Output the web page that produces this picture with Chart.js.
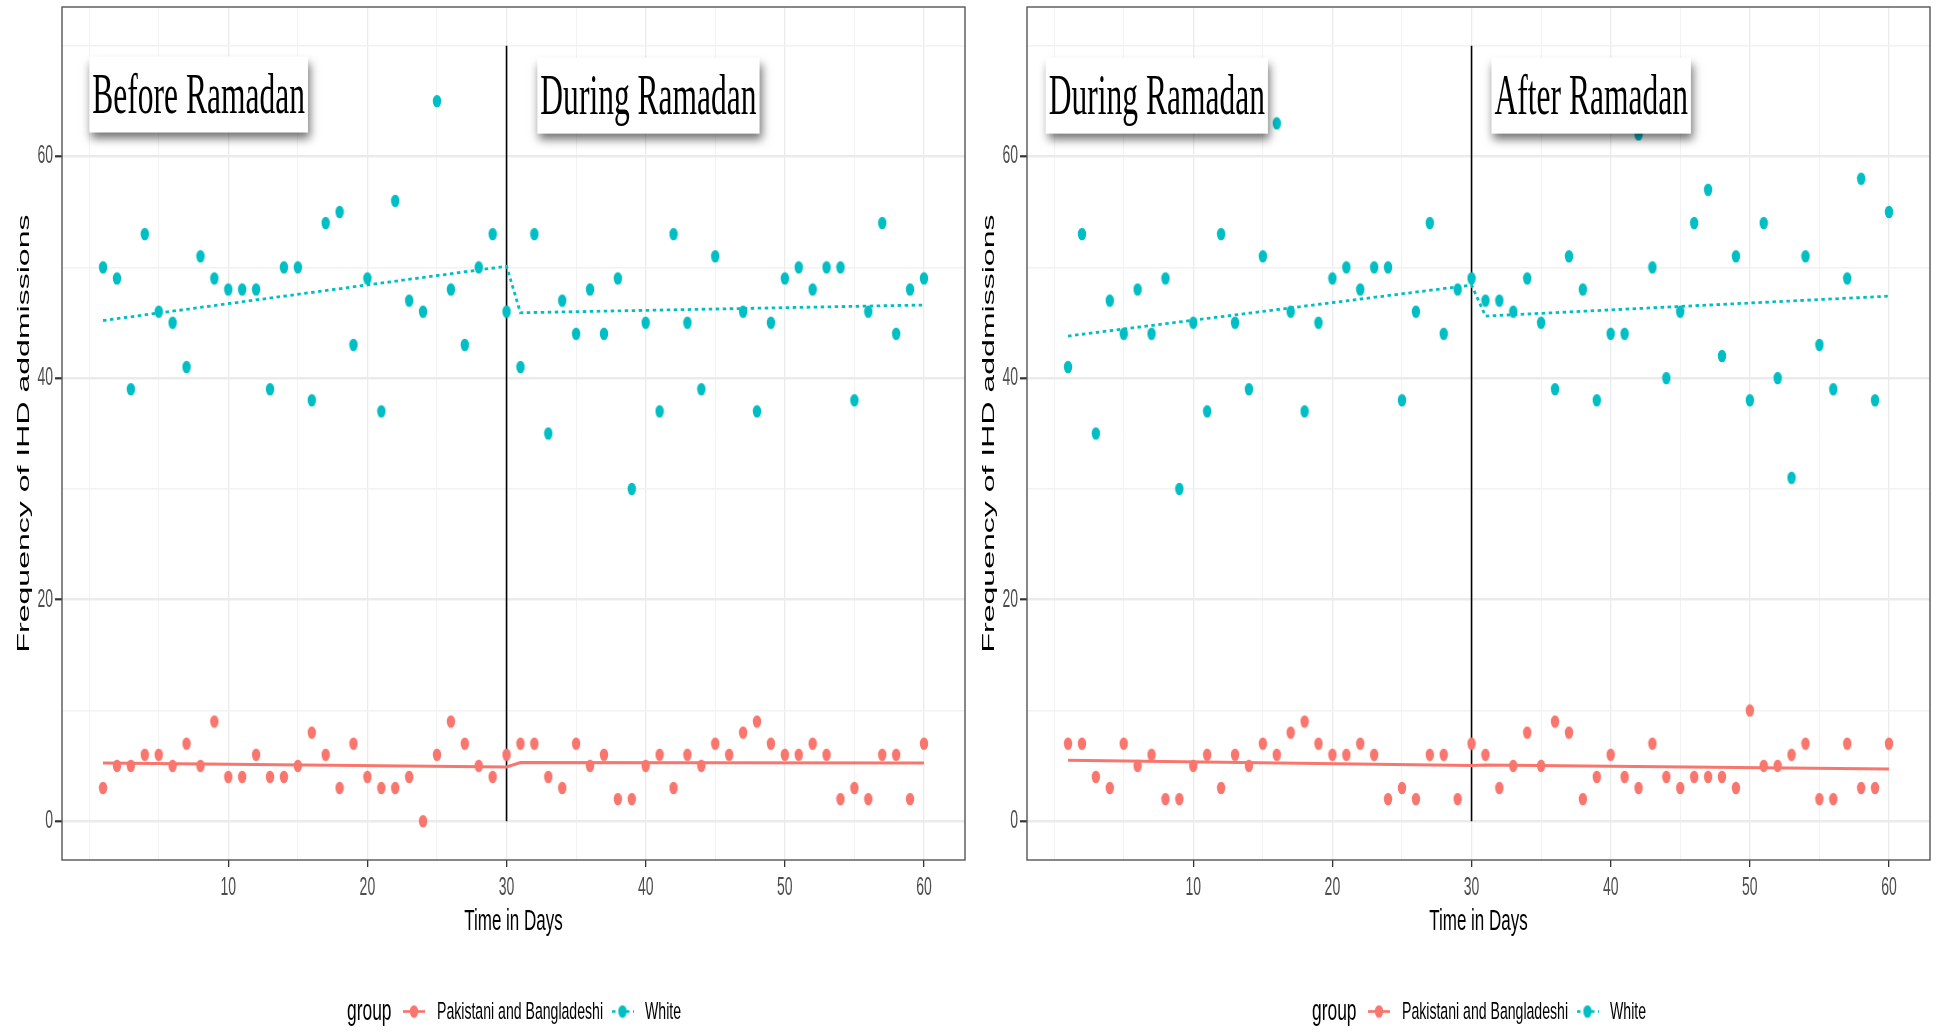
<!DOCTYPE html>
<html>
<head>
<meta charset="utf-8">
<script src="https://cdn.jsdelivr.net/npm/chart.js@4.4.1/dist/chart.umd.min.js"></script>
<style>
  body { margin: 0; background: #fff; width: 1939px; height: 1032px; overflow: hidden; position: relative; }
  .panel { position: absolute; top: 0; width: 970px; height: 1032px; }
</style>
</head>
<body>
<div class="panel" style="left:0"><canvas id="leftChart" width="970" height="1032"></canvas></div>
<div class="panel" style="left:965px"><canvas id="rightChart" width="970" height="1032"></canvas></div>
<script>
// Days of each 60-day window
const days = Array.from({ length: 60 }, (_, i) => i + 1);

// Daily IHD admissions, Pakistani and Bangladeshi
const beforePak = [3,5,5,6,6,5,7,5,9,4,4,6,4,4,5,8,6,3,7,4,3,3,4,0,6,9,7,5,4,6];
const duringPak = [7,7,4,3,7,5,6,2,2,5,6,3,6,5,7,6,8,9,7,6,6,7,6,2,3,2,6,6,2,7];
const afterPak  = [6,3,5,8,5,9,8,2,4,6,4,3,7,4,3,4,4,4,3,10,5,5,6,7,2,2,7,3,3,7];

// Daily IHD admissions, White
const beforeWhite = [50,49,39,53,46,45,41,51,49,48,48,48,39,50,50,38,54,55,43,49,37,56,47,46,65,48,43,50,53,46];
const duringWhite = [41,53,35,47,44,48,44,49,30,45,37,53,45,39,51,63,46,37,45,49,50,48,50,50,38,46,54,44,48,49];
const afterWhite  = [47,47,46,49,45,39,51,48,38,44,44,62,50,40,46,54,57,42,51,38,54,40,31,51,43,39,49,58,38,55];

// Segmented regression fits (ends of each segment)
const fitDays = [1, 30, 31, 60];
const leftPakFit = [5.26, 4.9, 5.3, 5.25];
const leftWhiteFit = [45.2, 50.1, 45.9, 46.6];
const rightPakFit = [5.5, 5.02, 5.08, 4.72];
const rightWhiteFit = [43.8, 48.4, 45.6, 47.4];

// Axis ticks
const xTickLabels = [10, 20, 30, 40, 50, 60];
const yTickLabels = [0, 20, 40, 60];
const breakDay = 30;
const breakTop = 70;

const RED = "#F8766D";
const CYAN = "#00BFC4";
const SANS = '"Liberation Sans", Arial, sans-serif';
const SERIF = '"Liberation Serif", "Times New Roman", serif';

function toPoints(xs, ys) {
    return xs.map((x, i) => ({ x: x, y: ys[i] }));
}

function makeDot(color) {
    const c = document.createElement("canvas");
    c.width = 10;
    c.height = 14;
    const g = c.getContext("2d");
    g.fillStyle = color;
    g.beginPath();
    g.ellipse(5, 7, 4.2, 6.3, 0, 0, Math.PI * 2);
    g.fill();
    return c;
}

// text squeezed sideways like the source picture
function squished(ctx, text, x, y, font, sx, align, baseline, color) {
    ctx.save();
    ctx.font = font;
    ctx.fillStyle = color;
    ctx.textAlign = align;
    ctx.textBaseline = baseline;
    ctx.translate(x, y);
    ctx.scale(sx, 1);
    ctx.fillText(text, 0, 0);
    ctx.restore();
}

const decorPlugin = {
    id: "decor",
    afterDraw(chart) {
        const ctx = chart.ctx;
        const area = chart.chartArea;
        const xs = chart.scales.x;
        const ys = chart.scales.y;
        const notes = chart.options.plugins.decor.notes;

        // label boxes
        notes.forEach(n => {
            ctx.save();
            ctx.font = "57px " + SERIF;
            const tw = ctx.measureText(n.text).width * 0.553;
            const cx = xs.getPixelForValue(n.x);
            const cy = ys.getPixelForValue(n.y);
            const w = tw + 6, h = 76;
            ctx.shadowColor = "rgba(0,0,0,0.55)";
            ctx.shadowBlur = 9;
            ctx.shadowOffsetX = 2;
            ctx.shadowOffsetY = 6;
            ctx.fillStyle = "#fff";
            ctx.fillRect(cx - w / 2, cy - h / 2, w, h);
            ctx.restore();
            squished(ctx, n.text, cx, cy + 18, "57px " + SERIF, 0.553, "center", "alphabetic", "#000");
        });

        // panel border
        ctx.save();
        ctx.strokeStyle = "#555";
        ctx.lineWidth = 1.4;
        ctx.strokeRect(area.left, area.top, area.right - area.left, area.bottom - area.top);
        ctx.restore();

        // tick labels
        xTickLabels.forEach(v => {
            squished(ctx, String(v), xs.getPixelForValue(v), 895, "25px " + SANS, 0.56, "center", "alphabetic", "#4D4D4D");
        });
        yTickLabels.forEach(v => {
            squished(ctx, String(v), 53, ys.getPixelForValue(v), "25px " + SANS, 0.56, "right", "middle", "#4D4D4D");
        });

        // axis titles
        const midX = (area.left + area.right) / 2;
        squished(ctx, "Time in Days", midX, 930, "30px " + SANS, 0.566, "center", "alphabetic", "#000");
        ctx.save();
        ctx.font = "30px " + SANS;
        const title = "Frequency of IHD addmissions";
        const along = 438 / ctx.measureText(title).width;
        ctx.translate(24, (area.top + area.bottom) / 2);
        ctx.rotate(-Math.PI / 2);
        ctx.scale(along, 0.56);
        ctx.fillStyle = "#000";
        ctx.textAlign = "center";
        ctx.textBaseline = "middle";
        ctx.fillText(title, 0, 0);
        ctx.restore();

        // legend
        squished(ctx, "group", 347, 1020, "30px " + SANS, 0.58, "left", "alphabetic", "#000");
        ctx.save();
        ctx.lineWidth = 2.7;
        ctx.strokeStyle = RED;
        ctx.beginPath(); ctx.moveTo(403, 1011.5); ctx.lineTo(425, 1011.5); ctx.stroke();
        ctx.drawImage(makeDot(RED), 414 - 5, 1011.5 - 7);
        ctx.strokeStyle = CYAN;
        ctx.setLineDash([3.5, 3.5]);
        ctx.beginPath(); ctx.moveTo(612, 1011.5); ctx.lineTo(634, 1011.5); ctx.stroke();
        ctx.drawImage(makeDot(CYAN), 622.5 - 5, 1011.5 - 7);
        ctx.restore();
        squished(ctx, "Pakistani and Bangladeshi", 437, 1019, "24.5px " + SANS, 0.575, "left", "alphabetic", "#000");
        squished(ctx, "White", 645, 1019, "24.5px " + SANS, 0.575, "left", "alphabetic", "#000");
    }
};

function makePanel(canvasId, pakVals, whiteVals, pakFit, whiteFit, notes) {
    const ctx = document.getElementById(canvasId).getContext("2d");
    return new Chart(ctx, {
        type: "scatter",
        data: {
            datasets: [
                {
                    data: toPoints(days, pakVals),
                    pointStyle: makeDot(RED),
                    showLine: false,
                },
                {
                    data: toPoints(days, whiteVals),
                    pointStyle: makeDot(CYAN),
                    showLine: false,
                },
                {
                    data: toPoints(fitDays, pakFit),
                    showLine: true,
                    borderColor: RED,
                    borderWidth: 3,
                    pointRadius: 0,
                },
                {
                    data: toPoints(fitDays, whiteFit),
                    showLine: true,
                    borderColor: CYAN,
                    borderWidth: 2.8,
                    borderDash: [3.5, 3.5],
                    borderCapStyle: "butt",
                    pointRadius: 0,
                },
                {
                    data: [{ x: breakDay, y: 0 }, { x: breakDay, y: breakTop }],
                    showLine: true,
                    borderColor: "#000",
                    borderWidth: 1.6,
                    pointRadius: 0,
                },
            ],
        },
        options: {
            responsive: false,
            animation: false,
            layout: { padding: { top: 7, right: 4, left: 0, bottom: 0 } },
            plugins: {
                legend: { display: false },
                tooltip: { enabled: false },
                decor: { notes: notes },
            },
            scales: {
                x: {
                    type: "linear",
                    min: -1.95,
                    max: 62.95,
                    border: { display: false },
                    ticks: { stepSize: 5, includeBounds: false, display: false },
                    grid: {
                        color: c => xTickLabels.includes(c.tick.value) ? "#EBEBEB" : "#F2F2F2",
                        lineWidth: c => xTickLabels.includes(c.tick.value) ? 1.3 : 1,
                        tickLength: 7,
                        tickColor: c => xTickLabels.includes(c.tick.value) ? "#333" : "rgba(0,0,0,0)",
                        tickWidth: 1.3,
                    },
                    afterFit: s => { s.height = 172; },
                },
                y: {
                    min: -3.5,
                    max: 73.5,
                    border: { display: false },
                    ticks: { stepSize: 10, includeBounds: false, display: false },
                    grid: {
                        color: c => yTickLabels.includes(c.tick.value) ? "#EBEBEB" : "#F2F2F2",
                        lineWidth: c => yTickLabels.includes(c.tick.value) ? 2.6 : 1.6,
                        tickLength: 7,
                        tickColor: c => yTickLabels.includes(c.tick.value) ? "#333" : "rgba(0,0,0,0)",
                        tickWidth: 2.2,
                    },
                    afterFit: s => { s.width = 62; },
                },
            },
        },
        plugins: [decorPlugin],
    });
}

makePanel("leftChart",
    beforePak.concat(duringPak), beforeWhite.concat(duringWhite),
    leftPakFit, leftWhiteFit,
    [{ text: "Before Ramadan", x: 7.87, y: 65.6 }, { text: "During Ramadan", x: 40.2, y: 65.5 }]);

makePanel("rightChart",
    duringPak.concat(afterPak), duringWhite.concat(afterWhite),
    rightPakFit, rightWhiteFit,
    [{ text: "During Ramadan", x: 7.38, y: 65.5 }, { text: "After Ramadan", x: 38.6, y: 65.5 }]);
</script>
</body>
</html>
